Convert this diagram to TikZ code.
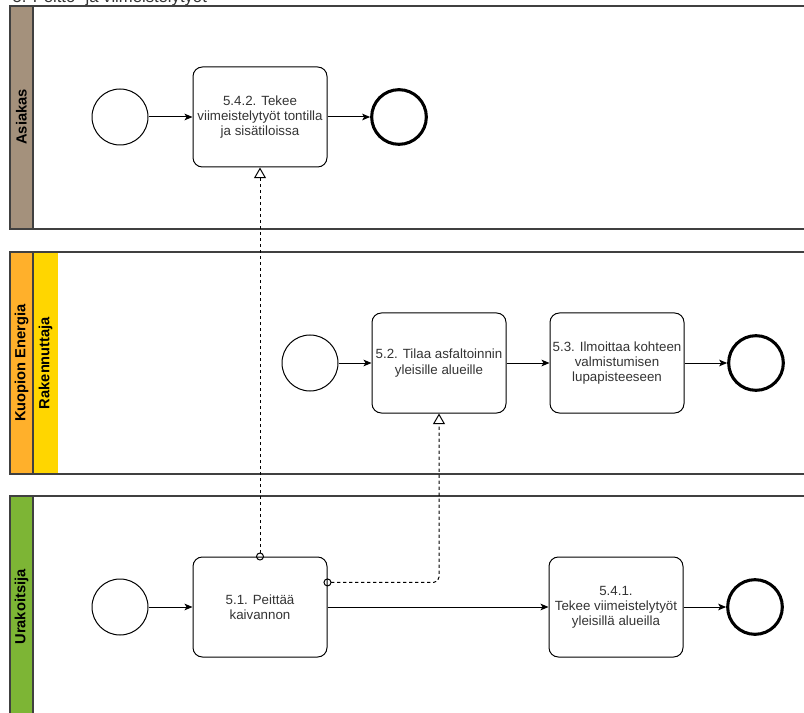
\documentclass[tikz,border=0pt]{standalone}
\usepackage{fontspec}
\setmainfont{Liberation Sans}
\usetikzlibrary{arrows.meta}

\definecolor{asiakas}{RGB}{164,145,124}
\definecolor{kuopio}{RGB}{255,176,43}
\definecolor{rakenn}{RGB}{255,214,0}
\definecolor{urakoit}{RGB}{125,181,53}

\begin{document}
\begin{tikzpicture}[x=0.75pt, y=-0.75pt, >={Stealth[length=6pt,width=5pt,inset=1.5pt]},
  task/.style={draw, rounded corners=7pt, minimum width=100.5pt, minimum height=75pt,
    inner xsep=1pt, align=center, text=black!80, font=\fontsize{10}{11.4}\selectfont,
    line width=0.75pt},
  startev/.style={draw, circle, minimum size=42pt, line width=0.75pt},
  endev/.style={draw, circle, minimum size=41pt, line width=2.3pt},
  pool/.style={draw=black!75, line width=0.9pt},
  lanelabel/.style={rotate=90, font=\fontsize{11}{13}\selectfont\bfseries},
  msg/.style={dash pattern=on 2.5pt off 2pt, line width=0.75pt, rounded corners=4pt,
    shorten <=-3pt, {Circle[open,length=6pt]}-{Triangle[open,length=8pt,width=9pt]}}
]
  \useasboundingbox (0,0) rectangle (804,713);

  % title, cut at the top
  \node[anchor=base west, font=\fontsize{12.5}{14}\selectfont, text=black!80] (title) at (8,3)
    {5. Peitto- ja viimeistelytyöt};

  % pools
  \fill[asiakas] (10,6) rectangle (33,229);
  \fill[kuopio] (10,252) rectangle (33,474);
  \fill[rakenn] (33,252) rectangle (58,474);
  \fill[urakoit] (10,496) rectangle (33,730);
  \draw[pool] (10,6) rectangle (830,229);
  \draw[pool] (33,6) -- (33,229);
  \draw[pool] (10,252) rectangle (830,474);
  \draw[pool] (33,252) -- (33,474);
  \draw[pool] (10,496) rectangle (830,730);
  \draw[pool] (33,496) -- (33,730);

  \node[lanelabel] (asiakasl) at (21.5,117) {Asiakas};
  \node[lanelabel] (kuopiol) at (21.5,363) {Kuopion Energia};
  \node[lanelabel] (rakennl) at (45.5,363) {Rakennuttaja};
  \node[lanelabel] (urakoitl) at (21.5,607) {Urakoitsija};

  % Asiakas
  \node[startev] (s1) at (120,117) {};
  \node[task] (t542) at (260,117) {5.4.2. Tekee\\viimeistelytyöt tontilla\\ja sisätiloissa};
  \node[endev] (e1) at (399,117) {};

  % Kuopion Energia / Rakennuttaja
  \node[startev] (s2) at (310,363) {};
  \node[task] (t52) at (439,363) {5.2. Tilaa asfaltoinnin\\yleisille alueille};
  \node[task] (t53) at (617,363) {5.3. Ilmoittaa kohteen\\valmistumisen\\lupapisteeseen};
  \node[endev] (e2) at (756,363) {};

  % Urakoitsija
  \node[startev] (s3) at (120,607) {};
  \node[task] (t51) at (260,607) {5.1. Peittää\\kaivannon};
  \node[task] (t541) at (616,607) {5.4.1.\\Tekee viimeistelytyöt\\yleisillä alueilla};
  \node[endev] (e3) at (755,607) {};

  % sequence flows
  \draw[->, line width=0.75pt] (s1) -- (t542);
  \draw[->, line width=0.75pt] (t542) -- (e1);
  \draw[->, line width=0.75pt] (s2) -- (t52);
  \draw[->, line width=0.75pt] (t52) -- (t53);
  \draw[->, line width=0.75pt] (t53) -- (e2);
  \draw[->, line width=0.75pt] (s3) -- (t51);
  \draw[->, line width=0.75pt] (t51) -- (t541);
  \draw[->, line width=0.75pt] (t541) -- (e3);

  % message flows
  \draw[msg] (t51.north) -- (t542.south);
  \draw[msg] (t51.20) -| (t52.south);
\end{tikzpicture}
\end{document}
